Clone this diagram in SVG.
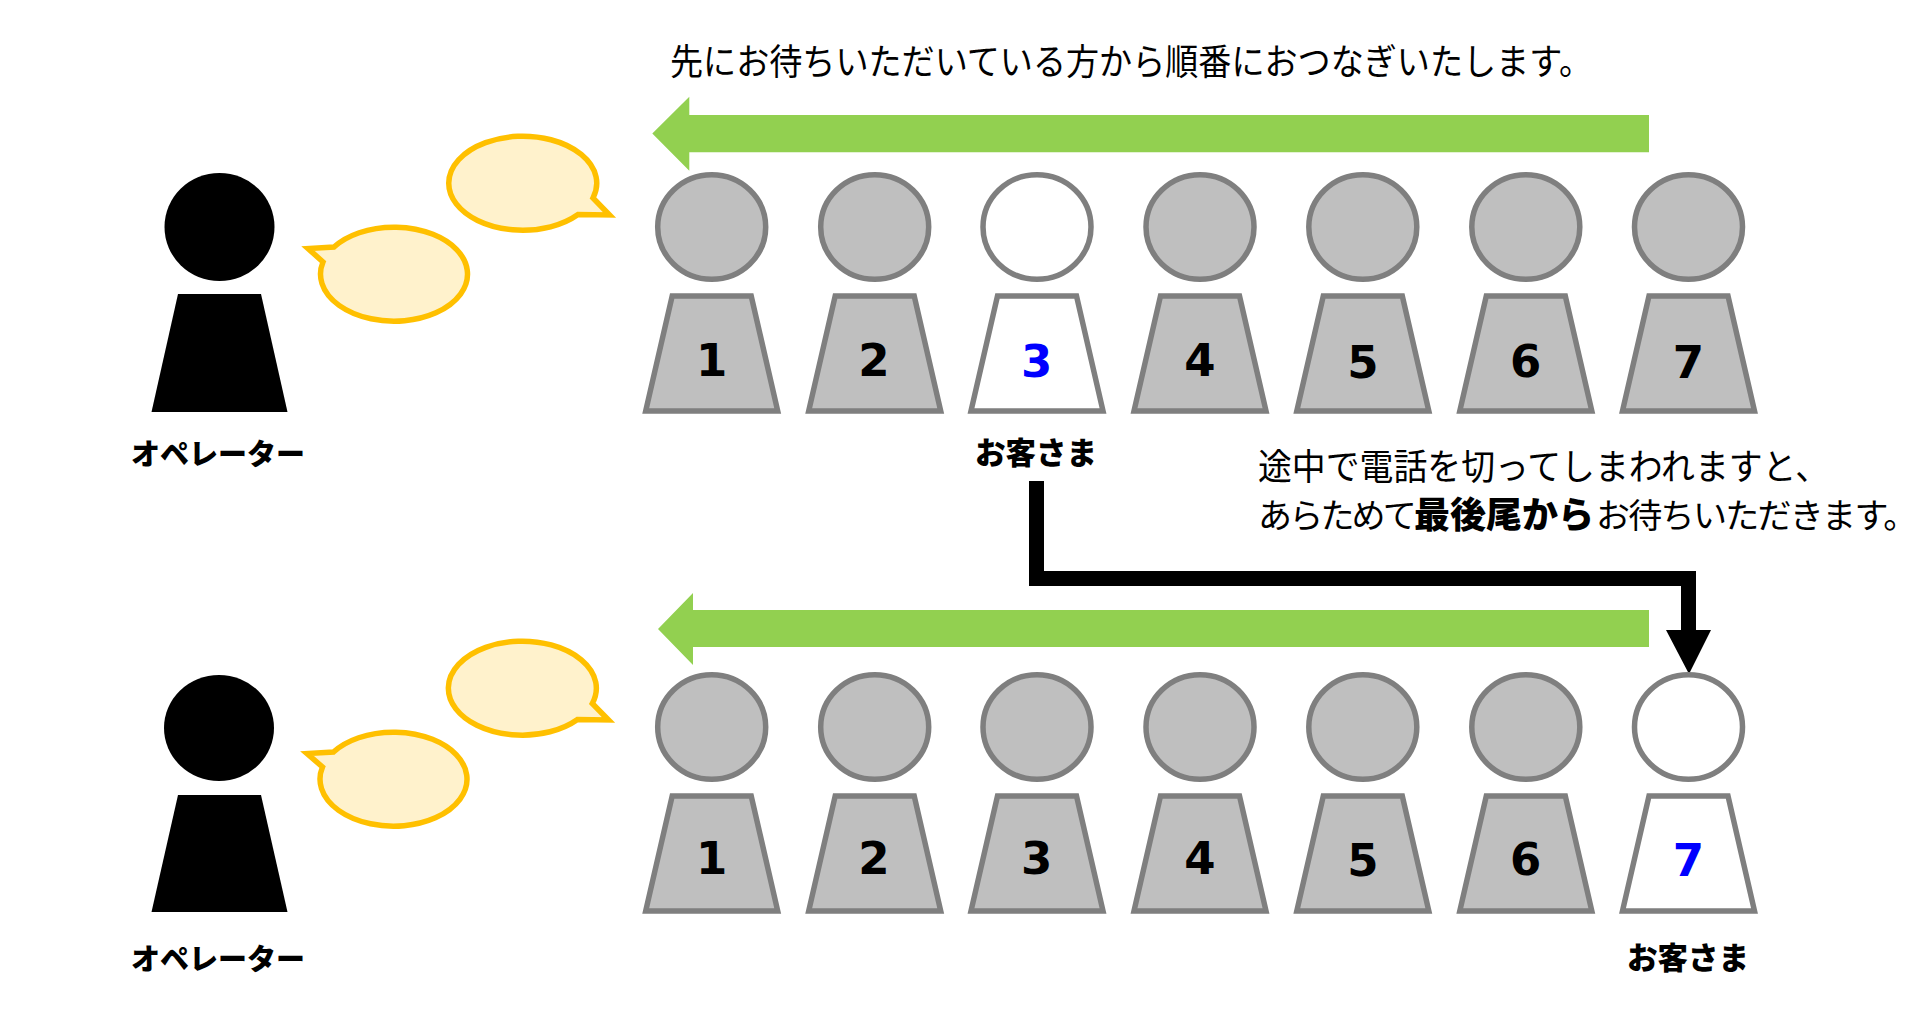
<svg xmlns="http://www.w3.org/2000/svg" width="1920" height="1019" viewBox="0 0 1920 1019">
<style>
text{font-family:"Noto Sans CJK JP","Noto Sans",sans-serif;fill:#000}
.l{font-size:36px}
.s{font-size:34px}
.b{font-size:29px;font-weight:900;text-anchor:middle}
.c{font-size:30.500px;font-weight:900;text-anchor:middle}
.h{font-weight:900;font-size:36px}
.n{font-family:"DejaVu Sans",sans-serif;font-size:45px;font-weight:700;text-anchor:middle}
.sel{fill:#0000FF}
.g{fill:#BFBFBF;stroke:#7F7F7F;stroke-width:5.500}
.w{fill:#FFF;stroke:#7F7F7F;stroke-width:5.500}
.bub{fill:#FFF2CC;stroke:#FFC000;stroke-width:5.500}
.green{fill:#92D050}
</style>
<defs>
<path id="body" d="M-39.500 0H39.500L66 115H-66Z"/>
</defs>
<rect width="1920" height="1019" fill="#FFF"/>
<g id="connectors">
<path class="green" d="M1649 115V152.300H689.300V170.700L652.300 133.500L689.300 96.700V115Z"/>
<path class="green" d="M1649 610V647H693V665L658 629L693 593V610Z"/>
<path d="M1029 481H1044V571H1696V630H1711L1689 674L1666 630H1681V586H1029Z"/>
</g>
<g id="operator-top"><ellipse cx="219.500" cy="227" rx="55" ry="54"/><path d="M178 294H261L287.500 412H151.500Z"/><text class="b" x="218" y="465">オペレーター</text></g>
<g id="bubble-top-1"><path class="bub" d="M593 198A74 47 0 1 0 578 214.500L609.500 215Z"/></g>
<g id="bubble-top-2"><path class="bub" d="M323 262A73.500 47 0 1 0 334 247L308 248.500Z"/></g>
<g id="person-1-1"><ellipse class="g" cx="711.700" cy="227" rx="54" ry="52.300"/><use href="#body" class="g" x="711.700" y="296"/><text class="n" x="711.700" y="375.700">1</text></g>
<g id="person-1-2"><ellipse class="g" cx="874.700" cy="227" rx="54" ry="52.300"/><use href="#body" class="g" x="874.700" y="296"/><text class="n" x="874" y="375.700">2</text></g>
<g id="person-1-3"><ellipse class="w" cx="1037" cy="227" rx="54" ry="52.300"/><use href="#body" class="w" x="1037" y="296"/><text class="n sel" x="1036.700" y="376.500">3</text><text class="c" x="1036" y="464">お客さま</text></g>
<g id="person-1-4"><ellipse class="g" cx="1200" cy="227" rx="54" ry="52.300"/><use href="#body" class="g" x="1200" y="296"/><text class="n" x="1200" y="376">4</text></g>
<g id="person-1-5"><ellipse class="g" cx="1362.800" cy="227" rx="54" ry="52.300"/><use href="#body" class="g" x="1362.800" y="296"/><text class="n" x="1363" y="378">5</text></g>
<g id="person-1-6"><ellipse class="g" cx="1525.800" cy="227" rx="54" ry="52.300"/><use href="#body" class="g" x="1525.800" y="296"/><text class="n" x="1525.700" y="377">6</text></g>
<g id="person-1-7"><ellipse class="g" cx="1688.500" cy="227" rx="54" ry="52.300"/><use href="#body" class="g" x="1688.500" y="296"/><text class="n" x="1688.300" y="377.700">7</text></g>
<g id="operator-bottom"><ellipse cx="219" cy="728" rx="55" ry="53"/><path d="M178 795H261L287.500 912H151.500Z"/><text class="b" x="218" y="970">オペレーター</text></g>
<g id="bubble-bottom-1"><path class="bub" d="M592.300 703.500A74 47 0 1 0 577.500 719.500L608.500 720Z"/></g>
<g id="bubble-bottom-2"><path class="bub" d="M322.500 767A73.500 47 0 1 0 333.500 752L307 753.500Z"/></g>
<g id="person-2-1"><ellipse class="g" cx="711.700" cy="727" rx="54" ry="52.300"/><use href="#body" class="g" x="711.700" y="796"/><text class="n" x="711.700" y="874">1</text></g>
<g id="person-2-2"><ellipse class="g" cx="874.700" cy="727" rx="54" ry="52.300"/><use href="#body" class="g" x="874.700" y="796"/><text class="n" x="874" y="874">2</text></g>
<g id="person-2-3"><ellipse class="g" cx="1037" cy="727" rx="54" ry="52.300"/><use href="#body" class="g" x="1037" y="796"/><text class="n" x="1036.700" y="874">3</text></g>
<g id="person-2-4"><ellipse class="g" cx="1200" cy="727" rx="54" ry="52.300"/><use href="#body" class="g" x="1200" y="796"/><text class="n" x="1200" y="874">4</text></g>
<g id="person-2-5"><ellipse class="g" cx="1362.800" cy="727" rx="54" ry="52.300"/><use href="#body" class="g" x="1362.800" y="796"/><text class="n" x="1363" y="876">5</text></g>
<g id="person-2-6"><ellipse class="g" cx="1525.800" cy="727" rx="54" ry="52.300"/><use href="#body" class="g" x="1525.800" y="796"/><text class="n" x="1525.700" y="875">6</text></g>
<g id="person-2-7"><ellipse class="w" cx="1688.500" cy="727" rx="54" ry="52.300"/><use href="#body" class="w" x="1688.500" y="796"/><text class="n sel" x="1688.300" y="876">7</text><text class="c" x="1688" y="969">お客さま</text></g>
<g id="captions">
<text class="l" x="670" y="75" textLength="922" lengthAdjust="spacingAndGlyphs">先にお待ちいただいている方から順番におつなぎいたします。</text>
<text class="l" x="1258" y="480" textLength="571" lengthAdjust="spacingAndGlyphs">途中で電話を切ってしまわれますと、</text>
<text class="s" y="528"><tspan x="1258" letter-spacing="-2.800">あらためて</tspan><tspan class="h" x="1414">最後尾から</tspan><tspan x="1596" letter-spacing="-1.700">お待ちいただきます。</tspan></text>
</g>
</svg>
